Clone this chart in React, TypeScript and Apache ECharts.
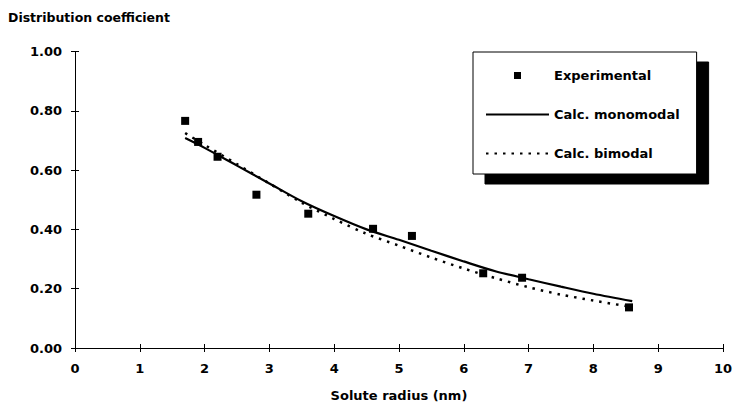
import React, { useEffect, useRef } from "react";
import * as echarts from "echarts";

const expX = [1.7, 1.9, 2.2, 2.8, 3.6, 4.6, 5.2, 6.3, 6.9, 8.55];
const expY = [0.766, 0.695, 0.645, 0.517, 0.453, 0.402, 0.378, 0.252, 0.237, 0.137];

const calcX = [1.7, 2.0, 2.5, 3.0, 3.5, 4.0, 4.5, 5.0, 5.5, 6.0, 6.5, 7.0, 7.5, 8.0, 8.6];
const monoY = [0.708, 0.675, 0.615, 0.555, 0.495, 0.445, 0.4, 0.365, 0.328, 0.292, 0.258, 0.232, 0.207, 0.183, 0.158];
const biY = [0.725, 0.685, 0.62, 0.555, 0.49, 0.435, 0.385, 0.345, 0.305, 0.268, 0.235, 0.205, 0.18, 0.16, 0.138];

const FONT = "DejaVu Sans";
const hiddenIcon = { color: "rgba(0,0,0,0)", borderColor: "rgba(0,0,0,0)", borderWidth: 0 };
const squareIcon = "path://M0,0L0.01,0L0.01,0.01Z M28,0L35,0L35,7L28,7Z M62.99,6.99L63,6.99L63,7Z";

export default function App() {
  const ref = useRef<HTMLDivElement>(null);
  useEffect(() => {
    if (!ref.current) return;
    const chart = echarts.init(ref.current, undefined, { renderer: "svg" });
    const axisCommon = {
      axisLine: { show: true, lineStyle: { color: "#000", width: 1 } },
      axisTick: { show: true, length: 4, lineStyle: { color: "#000" } },
      splitLine: { show: false },
    };
    chart.setOption({
      animation: false,
      backgroundColor: "#fff",
      title: {
        text: "Distribution coefficient",
        left: 8,
        top: 11,
        padding: 0,
        textStyle: { fontFamily: FONT, fontSize: 12.5, fontWeight: "bold", color: "#000" },
      },
      grid: { left: 75, right: 7, top: 51.5, bottom: 61 },
      legend: {
        orient: "vertical",
        left: 473,
        top: 52,
        padding: [17, 17, 14, 12],
        itemGap: 26,
        itemWidth: 63,
        itemHeight: 7,
        backgroundColor: "#fff",
        borderColor: "#000",
        borderWidth: 1,
        borderRadius: 0,
        shadowColor: "#000",
        shadowBlur: 0,
        shadowOffsetX: 12,
        shadowOffsetY: 10,
        textStyle: { fontFamily: FONT, fontSize: 13, fontWeight: "bold", color: "#000" },
        data: [
          { name: "Experimental", icon: squareIcon, itemStyle: { color: "#000", opacity: 1, borderWidth: 0 } },
          { name: "Calc. monomodal", itemStyle: hiddenIcon },
          { name: "Calc. bimodal", itemStyle: hiddenIcon },
        ],
      },
      xAxis: [
        {
          type: "value",
          min: 0,
          max: 10,
          interval: 1,
          name: "Solute radius (nm)",
          nameLocation: "middle",
          nameGap: 41,
          nameTextStyle: { fontFamily: FONT, fontSize: 13, fontWeight: "bold", color: "#000" },
          ...axisCommon,
          axisLabel: { margin: 14, fontFamily: FONT, fontSize: 13, fontWeight: "bold", color: "#000" },
        },
        {
          type: "value",
          min: 0,
          max: 10,
          interval: 1,
          position: "bottom",
          axisLine: { show: false },
          axisTick: { show: true, inside: true, length: 4, lineStyle: { color: "#000" } },
          axisLabel: { show: false },
          splitLine: { show: false },
        },
      ],
      yAxis: [
        {
          type: "value",
          min: 0,
          max: 1,
          interval: 0.2,
          ...axisCommon,
          axisLabel: {
            margin: 13,
            fontFamily: FONT,
            fontSize: 13,
            fontWeight: "bold",
            color: "#000",
            formatter: (v: number) => v.toFixed(2),
          },
        },
        {
          type: "value",
          min: 0,
          max: 1,
          interval: 0.2,
          position: "left",
          axisLine: { show: false },
          axisTick: { show: true, inside: true, length: 4, lineStyle: { color: "#000" } },
          axisLabel: { show: false },
          splitLine: { show: false },
        },
      ],
      series: [
        {
          name: "Experimental",
          type: "scatter",
          symbol: "rect",
          symbolSize: 8,
          itemStyle: { color: "#000", opacity: 1 },
          data: expX.map((x, i) => [x, expY[i]]),
          z: 3,
        },
        {
          name: "Calc. monomodal",
          type: "line",
          smooth: 0.3,
          showSymbol: false,
          symbol: "none",
          lineStyle: { color: "#000", width: 2.2, type: "solid" },
          itemStyle: { color: "#000" },
          data: calcX.map((x, i) => [x, monoY[i]]),
        },
        {
          name: "Calc. bimodal",
          type: "line",
          smooth: 0.3,
          showSymbol: false,
          symbol: "none",
          lineStyle: { color: "#000", width: 2.5, type: [2.5, 6] },
          itemStyle: { color: "#000" },
          data: calcX.map((x, i) => [x, biY[i]]),
        },
      ],
    });
    return () => chart.dispose();
  }, []);
  return (
    <div
      ref={ref}
      style={{ position: "fixed", left: 0, top: 0, width: 735, height: 409, background: "#fff" }}
    />
  );
}
